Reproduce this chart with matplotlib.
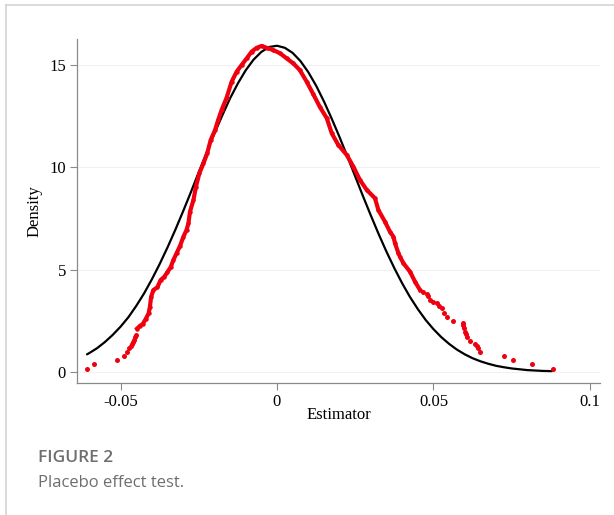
import matplotlib
matplotlib.use("Agg")
import matplotlib.pyplot as plt
from matplotlib.lines import Line2D

# ---------------- data ----------------
# Normal density reference curve (black)
normal_x = [-0.0607, -0.0600, -0.0575, -0.0550, -0.0525, -0.0500, -0.0475, -0.0450, -0.0425,
            -0.0400, -0.0375, -0.0350, -0.0325, -0.0300, -0.0275, -0.0250, -0.0225, -0.0200,
            -0.0175, -0.0150, -0.0125, -0.0100, -0.0075, -0.0050, -0.0025, 0.0000, 0.0025,
            0.0050, 0.0075, 0.0100, 0.0125, 0.0150, 0.0175, 0.0200, 0.0225, 0.0250, 0.0275,
            0.0300, 0.0325, 0.0350, 0.0375, 0.0400, 0.0425, 0.0450, 0.0475, 0.0500, 0.0525,
            0.0550, 0.0575, 0.0600, 0.0625, 0.0650, 0.0675, 0.0700, 0.0725, 0.0750, 0.0775,
            0.0800, 0.0825, 0.0850, 0.0878]
normal_y = [0.86, 0.92, 1.16, 1.46, 1.81, 2.21, 2.67, 3.22, 3.83, 4.52, 5.27, 6.08, 6.94,
            7.85, 8.79, 9.76, 10.71, 11.65, 12.53, 13.37, 14.10, 14.74, 15.26, 15.64, 15.88,
            15.94, 15.84, 15.59, 15.19, 14.65, 13.99, 13.22, 12.37, 11.47, 10.52, 9.55, 8.58,
            7.64, 6.73, 5.87, 5.07, 4.33, 3.66, 3.07, 2.54, 2.09, 1.70, 1.37, 1.09, 0.86,
            0.67, 0.52, 0.40, 0.30, 0.23, 0.17, 0.13, 0.09, 0.07, 0.05, 0.04]

# Kernel density of placebo estimates (red dots)
left_tail_x = [-0.0608, -0.0585, -0.0510, -0.0488, -0.0478, -0.0472, -0.0466, -0.0463,
               -0.0459, -0.0457, -0.0453, -0.0451]
left_tail_y = [0.16, 0.39, 0.60, 0.80, 0.99, 1.17, 1.27, 1.37, 1.47, 1.56, 1.70, 1.81]

core_x = [-0.0447, -0.0438, -0.0429, -0.0419, -0.0410, -0.0406, -0.0402, -0.0395, -0.0382,
          -0.0372, -0.0360, -0.0350, -0.0340, -0.0331, -0.0320, -0.0310, -0.0299, -0.0289,
          -0.0283, -0.0278, -0.0267, -0.0259, -0.0248, -0.0235, -0.0223, -0.0212, -0.0198,
          -0.0188, -0.0177, -0.0161, -0.0145, -0.0129, -0.0113, -0.0097, -0.0081, -0.0065,
          -0.0049, -0.0033, -0.0012, 0.0010, 0.0031, 0.0052, 0.0073, 0.0095, 0.0116, 0.0137,
          0.0159, 0.0175, 0.0196, 0.0223, 0.0244, 0.0265, 0.0287, 0.0313, 0.0324, 0.0345,
          0.0361, 0.0372, 0.0377, 0.0388, 0.0393, 0.0404, 0.0425, 0.0441, 0.0457]
core_y = [2.12, 2.25, 2.34, 2.60, 2.87, 3.19, 3.68, 4.00, 4.14, 4.49, 4.65, 4.88, 5.11,
          5.47, 5.83, 6.15, 6.61, 6.94, 7.26, 7.83, 8.40, 9.05, 9.71, 10.19, 10.68, 11.33,
          11.82, 12.31, 12.80, 13.40, 14.18, 14.67, 15.00, 15.32, 15.65, 15.84, 15.93,
          15.84, 15.73, 15.57, 15.32, 15.08, 14.75, 14.18, 13.57, 12.95, 12.40, 11.66,
          11.09, 10.60, 10.03, 9.38, 8.89, 8.49, 7.91, 7.34, 6.85, 6.61, 6.29, 5.80, 5.63,
          5.31, 4.90, 4.41, 4.00]

right_tail_x = [0.0465, 0.0478, 0.0483, 0.0489, 0.0500, 0.0510, 0.0518, 0.0526, 0.0533,
                0.0542, 0.0561, 0.0593, 0.0595, 0.0598, 0.0601, 0.0605, 0.0608, 0.0617,
                0.0633, 0.0640, 0.0643, 0.0649, 0.0726, 0.0753, 0.0815, 0.0882]
right_tail_y = [3.92, 3.80, 3.70, 3.52, 3.44, 3.36, 3.22, 3.11, 2.90, 2.70, 2.51, 2.40,
                2.30, 2.15, 1.97, 1.85, 1.72, 1.53, 1.35, 1.25, 1.16, 0.96, 0.80, 0.59,
                0.39, 0.15]

x_ticks = [-0.05, 0, 0.05, 0.1]
x_tick_labels = ["-0.05", "0", "0.05", "0.1"]
y_ticks = [0, 5, 10, 15]
y_tick_labels = ["0", "5", "10", "15"]

# ---------------- figure ----------------
W, H = 614, 515
fig = plt.figure(figsize=(W / 100, H / 100), dpi=100)
fig.patch.set_facecolor("white")

# outer card border
fig.add_artist(Line2D([6 / W, 1.0], [1 - 5 / H, 1 - 5 / H], color="#d4d4d4", lw=1.2))
fig.add_artist(Line2D([6 / W, 6 / W], [0, 1 - 5 / H], color="#d4d4d4", lw=1.2))

left_px, right_px, top_px, bottom_px = 77, 600, 39, 383
ax = fig.add_axes([left_px / W, 1 - bottom_px / H,
                   (right_px - left_px) / W, (bottom_px - top_px) / H])

red = "#f0000f"
ax.plot(normal_x, normal_y, color="black", lw=1.6, zorder=2, solid_capstyle="round")
ax.plot(core_x, core_y, color=red, lw=3.0, marker="o", ms=3.2, mew=0, zorder=3)
ax.plot(left_tail_x, left_tail_y, ls="none", color=red, marker="o", ms=3.6, mew=0, zorder=3)
ax.plot(right_tail_x, right_tail_y, ls="none", color=red, marker="o", ms=3.6, mew=0, zorder=3)

ax.set_xlim(-0.0639, 0.1032)
ax.set_ylim(-0.54, 16.27)

serif = ["Liberation Serif", "DejaVu Serif"]
fs = 12
ax.set_xticks(x_ticks)
ax.set_xticklabels(x_tick_labels, family=serif, fontsize=fs)
ax.set_yticks(y_ticks)
ax.set_yticklabels(y_tick_labels, family=serif, fontsize=fs)
ax.tick_params(axis="both", direction="out", length=5, width=0.8, color="#8a8a8a", pad=3)

ax.yaxis.grid(True, color="#f1f1f1", lw=0.8)
ax.set_axisbelow(True)

for s in ["top", "right"]:
    ax.spines[s].set_visible(False)
for s in ["left", "bottom"]:
    ax.spines[s].set_color("#8a8a8a")
    ax.spines[s].set_linewidth(0.9)

ax.set_xlabel("Estimator", family=serif, fontsize=fs, labelpad=-2)
ax.set_ylabel("Density", family=serif, fontsize=fs, labelpad=5)

sans = ["Open Sans", "Noto Sans", "DejaVu Sans"]
fig.text(38 / W, 1 - 458 / H, "FIGURE 2", family=sans, fontsize=12.5, weight="semibold",
         color="#6e6e6e", va="center", ha="left")
fig.text(38 / W, 1 - 483 / H, "Placebo effect test.", family=sans, fontsize=12,
         color="#6e6e6e", va="center", ha="left")

fig.savefig("out.png", dpi=100, facecolor="white")
